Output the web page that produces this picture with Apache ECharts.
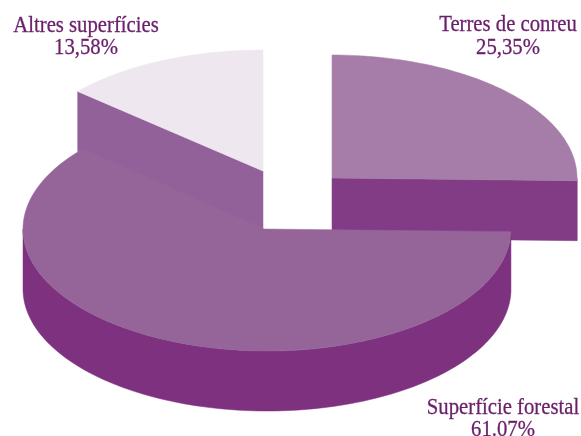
<!DOCTYPE html>
<html>
<head>
<meta charset="utf-8">
<style>html,body{margin:0;padding:0;background:#fff}#chart{width:581px;height:436px}</style>
<script src="https://cdn.jsdelivr.net/npm/echarts@6/dist/echarts.min.js"></script>
</head>
<body>
<div id="chart"></div>
<script>
// Values, clockwise from 12 o'clock
const categories = ['Terres de conreu', 'Superfície forestal', 'Altres superfícies'];
const values = [25.35, 61.07, 13.58];
const valueLabels = ['25,35%', '61.07%', '13,58%'];

// Styles and layout per category
const topColors = ['#a67ca9', '#95659a', '#efe7ef'];
const sideColors = ['#823b85', '#7e317e', '#92619a'];
const centers = [[332, 178], [267, 229], [263, 171]];
const apexes = [[332, 178], [264, 229], [263, 171]];
const radiiX = [245, 244, 246];
const radiiY = [123, 122, 121];
const labelPos = [[508, 36.5], [503, 419], [86, 37]];
const DEPTH = 60;
const drawOrder = [2, 0, 1];

const total = values.reduce((a, b) => a + b, 0);
const angles = [];
let acc = -90;
values.forEach(v => { const s = acc; acc += v / total * 360; angles.push([s, acc]); });

function pt(i, a, dy) {
  const r = a * Math.PI / 180;
  return [centers[i][0] + radiiX[i] * Math.cos(r), centers[i][1] + radiiY[i] * Math.sin(r) + (dy || 0)];
}
function arcPts(i, a0, a1, dy) {
  const n = Math.max(2, Math.ceil(Math.abs(a1 - a0) / 1.5));
  const out = [];
  for (let k = 0; k <= n; k++) out.push(pt(i, a0 + (a1 - a0) * k / n, dy));
  return out;
}
function poly(points, fill) {
  return { type: 'polygon', shape: { points }, style: { fill, stroke: fill, lineWidth: 0.5 } };
}
function renderSlice(params, api) {
  const idx = drawOrder[params.dataIndex];
  const ap = apexes[idx], a0 = angles[idx][0], a1 = angles[idx][1];
  const children = [];
  const d = DEPTH;
  // cut faces, only those that look towards the viewer
  [[a0, a0 - 90], [a1, a1 + 90]].forEach(([a, normal]) => {
    if (Math.sin(normal * Math.PI / 180) > 1e-6) {
      const p = pt(idx, a);
      children.push(poly([[ap[0], ap[1]], p, [p[0], p[1] + d], [ap[0], ap[1] + d]], sideColors[idx]));
    }
  });
  // outer wall: only the part facing the viewer (0..180 deg)
  for (let k = 0; k <= 1; k++) {
    const lo = Math.max(a0, k * 360), hi = Math.min(a1, k * 360 + 180);
    if (hi > lo) {
      children.push(poly(arcPts(idx, lo, hi, 0).concat(arcPts(idx, hi, lo, d)), sideColors[idx]));
    }
  }
  // top face
  children.push(poly([[ap[0], ap[1]]].concat(arcPts(idx, a0, a1, 0)), topColors[idx]));
  // label
  children.push({
    type: 'text',
    z2: 10,
    x: labelPos[idx][0],
    y: labelPos[idx][1],
    scaleX: 0.9,
    style: {
      x: 0, y: 0,
      text: categories[idx] + '\n' + valueLabels[idx],
      fill: '#6a1f6b',
      stroke: '#6a1f6b',
      lineWidth: 0.3,
      font: '23px "Liberation Serif"',
      lineHeight: 22.5,
      align: 'center',
      verticalAlign: 'middle'
    }
  });
  return { type: 'group', children };
}

const chart = echarts.init(document.getElementById('chart'), null, { renderer: 'canvas' });
chart.setOption({
  animation: false,
  backgroundColor: '#ffffff',
  series: [{
    type: 'custom',
    coordinateSystem: 'none',
    renderItem: renderSlice,
    data: drawOrder.map(i => ({ name: categories[i], value: values[i] })),
    silent: true
  }]
});
</script>
</body>
</html>
